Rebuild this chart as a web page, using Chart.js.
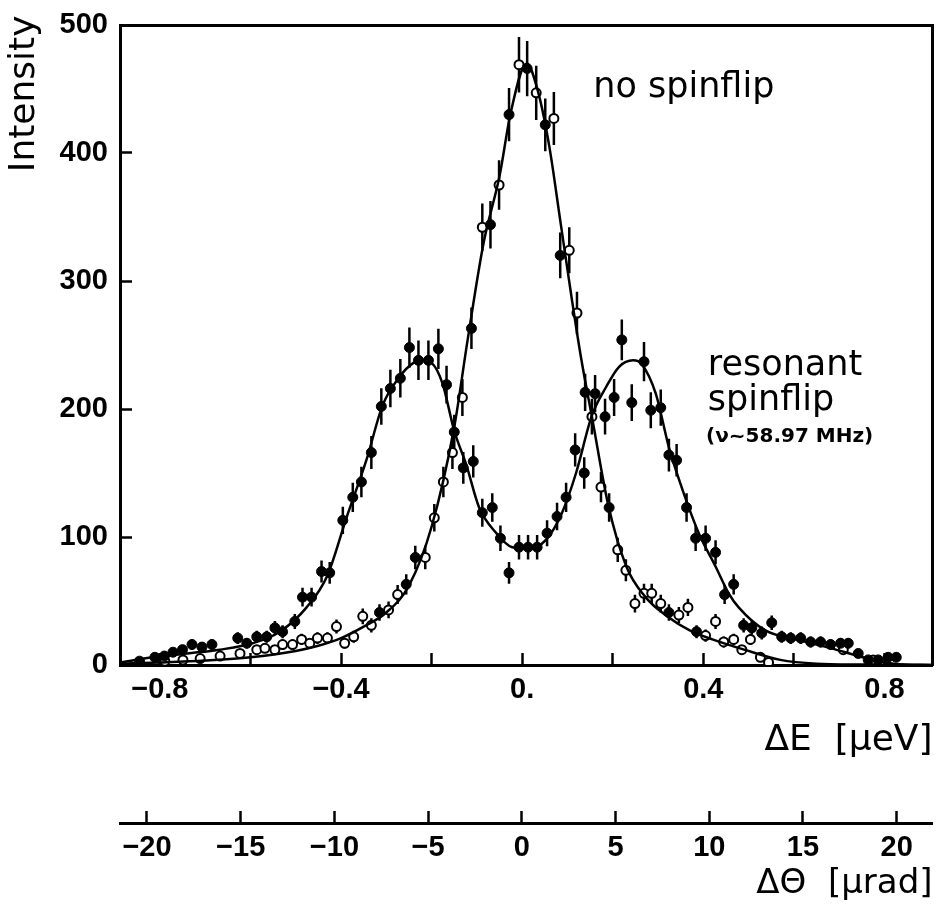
<!DOCTYPE html>
<html><head><meta charset="utf-8">
<script src="https://cdn.jsdelivr.net/npm/chart.js@4.4.1/dist/chart.umd.min.js"></script>
<style>html,body{margin:0;padding:0;background:#fff;overflow:hidden}</style>
</head><body>
<canvas id="c" width="939" height="916"></canvas>
<script>
// ---- data ----
const resonantX = [-0.845,-0.811,-0.79,-0.771,-0.75,-0.729,-0.707,-0.685,-0.628,-0.608,-0.586,-0.564,-0.546,-0.529,-0.502,-0.485,-0.465,-0.443,-0.425,-0.396,-0.374,-0.355,-0.333,-0.311,-0.291,-0.269,-0.249,-0.229,-0.207,-0.185,-0.167,-0.150,-0.130,-0.108,-0.088,-0.066,-0.048,-0.029,-0.007,0.013,0.033,0.055,0.077,0.097,0.117,0.137,0.161,0.183,0.203,0.220,0.242,0.269,0.284,0.306,0.324,0.341,0.363,0.383,0.405,0.427,0.447,0.467,0.489,0.507,0.529,0.551,0.573,0.593,0.615,0.637,0.659,0.681,0.703,0.720,0.742,0.764,0.786,0.808,0.826];
const resonantY = [3,6,7,10,12,16,14,16,21,17,22,22,29,26,34,53,53,73,72,113,131,143,166,202,216,224,248,238,238,247,219,182,154,159,119,123,99,72,92,92,92,103,116,131,168,150,212,194,209,254,205,237,199,201,164,160,123,99,99,88,55,63,31,29,25,33,22,21,21,18,18,16,17,17,9,4,4,6,6];

const noFlipOpenX = [-0.789,-0.749,-0.711,-0.667,-0.623,-0.586,-0.568,-0.546,-0.529,-0.507,-0.487,-0.469,-0.452,-0.430,-0.410,-0.392,-0.372,-0.352,-0.333,-0.295,-0.275,-0.214,-0.194,-0.174,-0.154,-0.132,-0.088,-0.051,-0.007,0.031,0.070,0.104,0.121,0.154,0.174,0.211,0.229,0.249,0.269,0.286,0.306,0.346,0.366,0.405,0.427,0.445,0.467,0.485,0.504,0.526,0.544,0.709,0.775];
const noFlipOpenY = [3,4,5,7,9,12,13,12,16,16,20,17,21,21,30,17,22,38,31,43,55,84,115,143,166,209,342,375,469,447,427,324,275,194,139,90,74,48,56,56,48,39,45,23,34,18,20,12,20,6,2,12,4];

const noFlipFilledX = [-0.315,-0.256,-0.236,-0.112,-0.070,-0.029,0.011,0.051,0.084,0.139,0.192,0.324,0.385];
const noFlipFilledY = [41,63,84,263,344,430,466,422,320,213,123,41,26];

// fitted curves
const fitNoFlipX = [-0.888,-0.8,-0.7,-0.6,-0.5,-0.45,-0.4,-0.35,-0.3,-0.25,-0.2,-0.15,-0.12,-0.085,-0.05,-0.025,0.01,0.035,0.06,0.085,0.11,0.13,0.155,0.19,0.23,0.27,0.32,0.37,0.42,0.49,0.57,0.65,0.75,0.906];
const fitNoFlipY = [1,2,3.5,6,11,15,21,30,41,62,108,186,255,330,382,432,470,448,405,345,285,240,192,125,77,54,38,27,20,12,4,1,0.3,0];

const fitResonantX = [-0.888,-0.815,-0.74,-0.667,-0.595,-0.535,-0.476,-0.43,-0.388,-0.344,-0.308,-0.271,-0.24,-0.22,-0.2,-0.176,-0.15,-0.123,-0.095,-0.057,-0.022,0.015,0.053,0.088,0.119,0.154,0.185,0.214,0.245,0.264,0.295,0.324,0.352,0.39,0.427,0.456,0.478,0.537,0.61,0.683,0.758,0.82,0.906];
const fitResonantY = [2,6,9,12,17,26,45,70,115,160,203,225,236,238,236,220,183,156,123,103,92,91,98,119,150,195,217,233,238,235,212,170,139,103,77,56,45,27,19.5,13,5.5,1,0];

const yTicks = [0,100,200,300,400,500];
const eTickLabels = {'-0.8':'−0.8','-0.4':'−0.4','0':'0.','0.4':'0.4','0.8':'0.8'};
const thetaTicks = [-20,-15,-10,-5,0,5,10,15,20];

// ---- helpers ----
const pts = (xs, ys) => xs.map((v, i) => ({x: v, y: ys[i]}));
const TICKFONT = {family: '"Liberation Sans", Arial, sans-serif', size: 29, weight: 'bold'};
const TITLEFONT = {family: '"DejaVu Sans", sans-serif', size: 36};

const errorBars = {
  id: 'errorBars',
  beforeDatasetsDraw(chart) {
    const {ctx, chartArea: a, scales: {x, y}} = chart;
    ctx.save();
    ctx.beginPath(); ctx.rect(a.left, a.top, a.right - a.left, a.bottom - a.top); ctx.clip();
    ctx.strokeStyle = '#000'; ctx.lineWidth = 2.5;
    for (const [xs, ys] of [[resonantX, resonantY], [noFlipOpenX, noFlipOpenY], [noFlipFilledX, noFlipFilledY]]) {
      xs.forEach((xv, i) => {
        const e = Math.sqrt(ys[i]); // counting (Poisson) error
        const px = x.getPixelForValue(xv);
        ctx.beginPath();
        ctx.moveTo(px, y.getPixelForValue(ys[i] - e));
        ctx.lineTo(px, y.getPixelForValue(ys[i] + e));
        ctx.stroke();
      });
    }
    ctx.restore();
  }
};

const notes = [
  {text: 'no spinflip', x: 0.157, y: 443.7, font: '35px "DejaVu Sans"'},
  {text: 'resonant', x: 0.410, y: 226.6, font: '35px "DejaVu Sans"'},
  {text: 'spinflip', x: 0.410, y: 199.2, font: '35px "DejaVu Sans"'},
  {text: '(ν~58.97 MHz)', x: 0.406, y: 174.2, font: 'bold 20px "DejaVu Sans"'}
];
const notesPlugin = {
  id: 'notes',
  afterDraw(chart) {
    const {ctx, scales: {x, y}} = chart;
    ctx.save();
    ctx.fillStyle = '#000'; ctx.textAlign = 'left'; ctx.textBaseline = 'alphabetic';
    for (const n of notes) {
      ctx.font = n.font;
      ctx.fillText(n.text, x.getPixelForValue(n.x), y.getPixelForValue(n.y));
    }
    // y-axis title
    ctx.translate(y.left + 34, y.getPixelForValue(385));
    ctx.rotate(-Math.PI / 2);
    ctx.font = '36px "DejaVu Sans"';
    ctx.fillText('Intensity', 0, 0);
    ctx.restore();
  }
};

new Chart(document.getElementById('c'), {
  type: 'scatter',
  data: {
    datasets: [
      {label: 'fit no spinflip', data: pts(fitNoFlipX, fitNoFlipY), showLine: true, pointRadius: 0, borderColor: '#000', borderWidth: 2.5, cubicInterpolationMode: 'monotone'},
      {label: 'fit resonant', data: pts(fitResonantX, fitResonantY), showLine: true, pointRadius: 0, borderColor: '#000', borderWidth: 2.5, cubicInterpolationMode: 'monotone'},
      {label: 'resonant spinflip', data: pts(resonantX, resonantY), pointRadius: 5, pointStyle: 'circle', backgroundColor: '#000', borderColor: '#000', borderWidth: 1},
      {label: 'no spinflip (filled)', data: pts(noFlipFilledX, noFlipFilledY), pointRadius: 5, pointStyle: 'circle', backgroundColor: '#000', borderColor: '#000', borderWidth: 1},
      {label: 'no spinflip', data: pts(noFlipOpenX, noFlipOpenY), pointRadius: 4.5, pointStyle: 'circle', backgroundColor: '#fff', borderColor: '#000', borderWidth: 2}
    ]
  },
  options: {
    responsive: false, animation: false, devicePixelRatio: 1,
    layout: {padding: {top: 25, right: 4, left: 0, bottom: 0}},
    plugins: {legend: {display: false}, tooltip: {enabled: false}},
    scales: {
      x: {
        type: 'linear', position: 'bottom', min: -0.888, max: 0.906, weight: 0,
        afterFit(s) { s.height = 158; s.paddingLeft = 0; s.paddingRight = 0; },
        border: {display: true, color: '#000', width: 3},
        grid: {display: true, drawOnChartArea: false, drawTicks: true, tickLength: -12, tickWidth: 2.5, tickColor: '#000'},
        ticks: {stepSize: 0.2, includeBounds: false, autoSkip: false, maxRotation: 0, padding: 20, color: '#000', font: TICKFONT,
          callback: v => { const k = String(Math.round(v * 10) / 10); return eTickLabels[k] !== undefined ? eTickLabels[k] : ''; }},
        title: {display: true, text: 'ΔE  [μeV]', align: 'end', color: '#000', font: TITLEFONT, padding: {top: 0, bottom: 61}}
      },
      x2: {
        type: 'linear', position: 'bottom', min: -21.44, max: 21.91, weight: 1,
        afterFit(s) { s.height = 93; s.paddingLeft = 0; s.paddingRight = 0; },
        border: {display: true, color: '#000', width: 3},
        grid: {display: true, drawOnChartArea: false, drawTicks: true, tickLength: -12, tickWidth: 2.5, tickColor: '#000'},
        afterBuildTicks(s) { s.ticks = thetaTicks.map(v => ({value: v})); },
        ticks: {autoSkip: false, maxRotation: 0, padding: 20, color: '#000', font: TICKFONT,
          callback: v => v < 0 ? '−' + Math.abs(v) : String(v)},
        title: {display: true, text: 'ΔΘ  [μrad]', align: 'end', color: '#000', font: {family: '"DejaVu Sans", sans-serif', size: 34}, padding: {top: 0, bottom: 11}}
      },
      xTop: {
        type: 'linear', position: 'top', min: -0.888, max: 0.906,
        afterFit(s) { s.height = 0; },
        ticks: {display: false}, grid: {display: false},
        border: {display: true, color: '#000', width: 3}
      },
      y: {
        type: 'linear', position: 'left', min: 0, max: 500,
        afterFit(s) { s.width = 120; s.paddingTop = 0; s.paddingBottom = 0; },
        afterBuildTicks(s) { s.ticks = yTicks.map(v => ({value: v})); },
        border: {display: true, color: '#000', width: 3},
        grid: {display: true, drawOnChartArea: false, drawTicks: true, tickLength: -12, tickWidth: 2.5, tickColor: '#000'},
        ticks: {padding: 24, color: '#000', font: TICKFONT}
      },
      yRight: {
        type: 'linear', position: 'right', min: 0, max: 500,
        afterFit(s) { s.width = 0; },
        ticks: {display: false}, grid: {display: false},
        border: {display: true, color: '#000', width: 3}
      }
    }
  },
  plugins: [errorBars, notesPlugin]
});
</script>
</body></html>
